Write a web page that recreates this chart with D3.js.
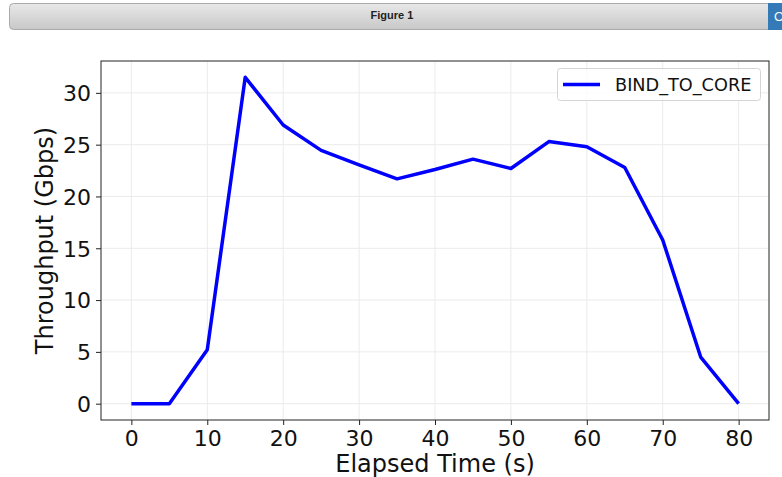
<!DOCTYPE html>
<html>
<head>
<meta charset="utf-8">
<script src="https://cdn.jsdelivr.net/npm/d3@7"></script>
<style>
  body { margin: 0; background: #fff; font-family: "DejaVu Sans", sans-serif; }
  #sandbox { position: relative; width: 782px; height: 477px; overflow: hidden; }
</style>
</head>
<body>
<div id="sandbox"></div>
<script>
// Chart data
var elapsed = [0, 5, 10, 15, 20, 25, 30, 35, 40, 45, 50, 55, 60, 65, 70, 75, 80];
var throughput = [0, 0, 5.2, 31.5, 26.9, 24.45, 23.05, 21.7, 22.6, 23.6, 22.7, 25.3, 24.8, 22.8, 15.8, 4.5, 0];
var seriesName = 'BIND_TO_CORE';
var xTicks = [0, 10, 20, 30, 40, 50, 60, 70, 80];
var yTicks = [0, 5, 10, 15, 20, 25, 30];

// Select the sandbox and append the svg
var mySvg = d3.select('#sandbox').append('svg')
    .attr('width', 782)
    .attr('height', 477);

// Figure title bar (notebook figure header)
var grad = mySvg.append('defs').append('linearGradient')
    .attr('id', 'barGrad')
    .attr('x1', 0).attr('y1', 0).attr('x2', 0).attr('y2', 1);
grad.append('stop').attr('offset', '0%').attr('stop-color', '#e8e8e8');
grad.append('stop').attr('offset', '100%').attr('stop-color', '#c8c8c8');

mySvg.append('rect')
    .attr('x', 9.5).attr('y', 3.5)
    .attr('width', 770).attr('height', 26)
    .attr('rx', 4)
    .attr('fill', 'url(#barGrad)')
    .attr('stroke', '#aaa');
mySvg.append('text')
    .attr('x', 392).attr('y', 19)
    .attr('text-anchor', 'middle')
    .style('font-family', 'Liberation Sans, Arial, sans-serif')
    .style('font-weight', 'bold')
    .style('font-size', '11px')
    .attr('fill', '#222')
    .text('Figure 1');
mySvg.append('rect')
    .attr('x', 768).attr('y', 3)
    .attr('width', 16).attr('height', 27)
    .attr('fill', '#337ab7');
mySvg.append('text')
    .attr('x', 774).attr('y', 21)
    .style('font-family', 'Liberation Sans, Arial, sans-serif')
    .style('font-size', '13px')
    .attr('fill', '#fff')
    .text('O');

// Axes box position
var plotLeft = 101, plotRight = 769, plotTop = 61, plotBottom = 420;

// Scales with matplotlib-like 5% margins
var xPad = (d3.max(elapsed) - d3.min(elapsed)) * 0.05;
var yPad = (d3.max(throughput) - d3.min(throughput)) * 0.05;
var x = d3.scaleLinear()
    .domain([d3.min(elapsed) - xPad, d3.max(elapsed) + xPad])
    .range([plotLeft, plotRight]);
var y = d3.scaleLinear()
    .domain([d3.min(throughput) - yPad, d3.max(throughput) + yPad])
    .range([plotBottom, plotTop]);

// Grid lines
var grid = mySvg.append('g').attr('stroke', '#ebebeb').attr('stroke-width', 1);
grid.selectAll('.vx').data(xTicks).enter().append('line')
    .attr('x1', function(d) { return x(d); })
    .attr('x2', function(d) { return x(d); })
    .attr('y1', plotTop).attr('y2', plotBottom);
grid.selectAll('.hy').data(yTicks).enter().append('line')
    .attr('y1', function(d) { return y(d); })
    .attr('y2', function(d) { return y(d); })
    .attr('x1', plotLeft).attr('x2', plotRight);

// Axes
var xAxis = mySvg.append('g')
    .attr('transform', 'translate(0,' + plotBottom + ')')
    .call(d3.axisBottom(x).tickValues(xTicks).tickSize(5).tickPadding(5).tickSizeOuter(0));
var yAxis = mySvg.append('g')
    .attr('transform', 'translate(' + plotLeft + ',0)')
    .call(d3.axisLeft(y).tickValues(yTicks).tickSize(5).tickPadding(5).tickSizeOuter(0));
[xAxis, yAxis].forEach(function(a) {
    a.select('.domain').remove();
    a.selectAll('line').attr('stroke', '#222');
    a.selectAll('text')
        .style('font-family', 'DejaVu Sans')
        .style('font-size', '22px')
        .attr('fill', '#111');
});
yAxis.selectAll('text').attr('dy', '0.36em');

// Frame around the plot area
mySvg.append('rect')
    .attr('x', plotLeft).attr('y', plotTop)
    .attr('width', plotRight - plotLeft).attr('height', plotBottom - plotTop)
    .attr('fill', 'none')
    .attr('stroke', '#222')
    .attr('stroke-width', 1);

// Data line
var line = d3.line()
    .x(function(d, i) { return x(elapsed[i]); })
    .y(function(d) { return y(d); });
mySvg.append('path')
    .datum(throughput)
    .attr('d', line)
    .attr('fill', 'none')
    .attr('stroke', '#0000ff')
    .attr('stroke-width', 3.5)
    .attr('stroke-linejoin', 'round');

// Axis labels
mySvg.append('text')
    .attr('x', (plotLeft + plotRight) / 2).attr('y', 472)
    .attr('text-anchor', 'middle')
    .style('font-family', 'DejaVu Sans')
    .style('font-size', '24px')
    .attr('fill', '#111')
    .text('Elapsed Time (s)');
mySvg.append('text')
    .attr('transform', 'translate(53,' + ((plotTop + plotBottom) / 2) + ') rotate(-90)')
    .attr('text-anchor', 'middle')
    .style('font-family', 'DejaVu Sans')
    .style('font-size', '24px')
    .attr('fill', '#111')
    .text('Throughput (Gbps)');

// Legend
var legend = mySvg.append('g');
legend.append('rect')
    .attr('x', 557.5).attr('y', 68.5)
    .attr('width', 203).attr('height', 32)
    .attr('rx', 3)
    .attr('fill', '#fff')
    .attr('fill-opacity', 0.8)
    .attr('stroke', '#d5d5d5');
legend.append('line')
    .attr('x1', 563).attr('x2', 600)
    .attr('y1', 84.5).attr('y2', 84.5)
    .attr('stroke', '#0000ff')
    .attr('stroke-width', 3.5);
legend.append('text')
    .attr('x', 615).attr('y', 91)
    .style('font-family', 'DejaVu Sans')
    .style('font-size', '17.7px')
    .attr('fill', '#111')
    .text(seriesName);
</script>
</body>
</html>
